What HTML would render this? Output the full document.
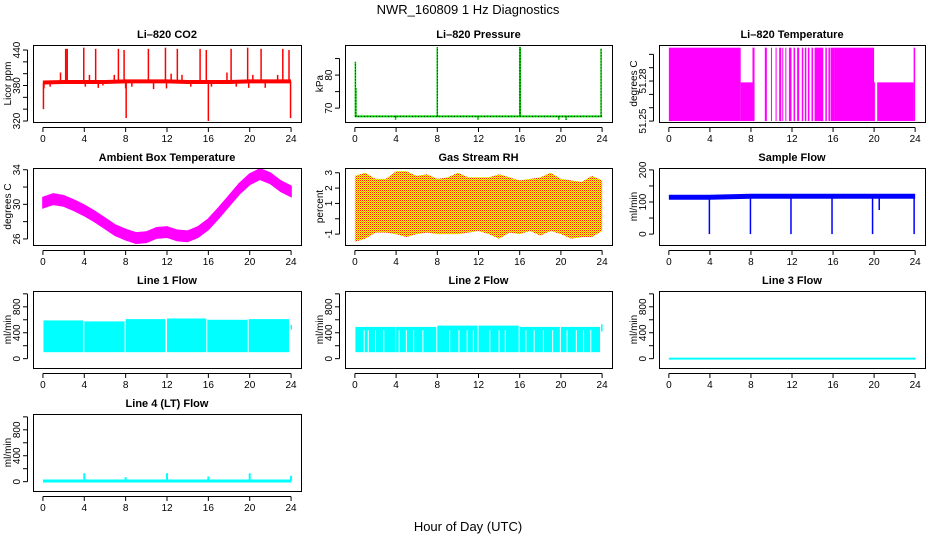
<!DOCTYPE html>
<html><head><meta charset="utf-8"><style>
body{margin:0;background:#fff}
svg{display:block;font-family:"Liberation Sans",sans-serif}
</style></head><body>
<svg id="c" width="936" height="540" xmlns="http://www.w3.org/2000/svg">
<defs>
<pattern id="rhpat" width="2" height="2" patternUnits="userSpaceOnUse"><rect width="2" height="2" fill="#ffff00"/><rect width="1" height="1" fill="#ff2000"/><rect x="1" y="1" width="1" height="1" fill="#ffa000"/></pattern>
</defs>
<text x="468" y="14" text-anchor="middle" font-size="13">NWR_160809  1 Hz Diagnostics</text>
<text x="468" y="531" text-anchor="middle" font-size="13">Hour of Day (UTC)</text>
</svg>
<script>
// ---- data ----
const xTicks=[0,4,8,12,16,20,24];
const co2Hours=[0,2,4,6,8,10,12,14,16,18,20,22,24];
const co2Base=[385,386,386,386,387,387,387,386,386,386,387,387,387];
const co2SpikeHours=[0.05,0.1,0.7,1.7,2.2,2.35,3.95,4.1,4.5,5.1,5.35,5.8,6.9,7.3,7.85,8.0,8.05,8.6,10.2,10.7,11.85,11.95,12.4,13.0,13.45,14.3,15.2,15.8,16.0,16.3,17.8,18.2,18.7,19.8,19.9,20.3,21.1,21.5,22.7,23.2,23.8,23.95];
const co2SpikeVals=[340,375,378,402,442,442,444,378,398,442,376,380,398,442,440,375,325,378,442,374,444,375,400,442,398,378,442,440,320,378,402,442,378,444,376,398,442,376,398,442,440,325];
const presBase=67.5;
const presSpikeHours=[0.05,0.1,3.95,8.0,11.95,16.0,16.05,19.8,20.5,23.9];
const presSpikeVals=[84,76,66.5,88.5,66.5,88.5,88.5,66.5,66.4,88];
const tempStart=[0,7.0,8.15,9.35,9.95,10.4,10.75,11.05,11.35,11.7,12.15,12.5,12.95,13.25,13.55,13.9,14.2,15.25,15.55,15.75,16.1,20.0,20.3,23.85];
const tempEnd=[7.0,8.15,8.35,9.55,10.05,10.5,10.95,11.15,11.45,11.95,12.3,12.7,13.1,13.4,13.7,14.05,15.05,15.4,15.7,16.1,20.0,20.05,23.85,24.0];
const tempTop=[51.305,51.279,51.305,51.305,51.305,51.305,51.305,51.305,51.305,51.305,51.305,51.305,51.305,51.305,51.305,51.305,51.305,51.305,51.305,51.305,51.305,51.279,51.279,51.305];
const ambHours=[0,1,2,3,4,5,6,7,8,9,10,11,12,13,14,15,16,17,18,19,20,21,22,23,24];
const ambVals=[30.2,30.6,30.4,29.9,29.3,28.6,27.8,27.0,26.5,26.1,26.2,26.7,26.8,26.4,26.3,26.8,27.7,29.0,30.4,31.8,32.9,33.5,33.0,32.1,31.5];
const rhHours=[0,1,2,3,4,5,6,7,8,9,10,11,12,13,14,15,16,17,18,19,20,21,22,23,24];
const rhHigh=[2.8,3.0,2.6,2.6,3.1,3.1,2.8,2.9,2.6,2.7,3.0,2.7,2.7,2.7,2.9,2.7,2.5,2.6,2.7,3.0,2.6,2.5,2.4,2.8,2.5];
const rhLow=[-1.5,-1.3,-0.9,-0.9,-1.0,-1.2,-1.0,-0.9,-1.0,-1.0,-1.0,-0.9,-0.8,-1.0,-1.3,-0.9,-1.0,-0.8,-1.1,-0.8,-1.0,-1.3,-1.2,-1.2,-0.8];
const sfHours=[0,4,8,12,16,20,24];
const sfBase=[115,115,118,118,118,118,118];
const sfDropHours=[3.95,7.95,11.9,15.9,19.85,20.5,23.9];
const sfDropVals=[0,0,0,0,0,75,0];
const l1Start=[0.05,4.0,8.0,12.0,15.9,19.9,23.95];
const l1End=[3.9,7.9,11.85,15.8,19.8,23.8,24.0];
const l1High=[590,575,610,620,600,610,520];
const l1Low=[100,100,100,100,100,100,450];
const l2Start=[0.05,4.0,8.0,12.0,16.0,20.0,23.9];
const l2End=[3.95,7.9,11.9,15.9,19.9,23.8,24.0];
const l2High=[490,490,510,510,490,490,530];
const l2Gaps=[0.9,1.3,2.0,2.8,4.3,5.0,5.7,6.6,9.2,10.1,10.9,11.5,13.1,14.0,14.6,16.6,17.4,18.3,19.2,20.6,21.5,22.2,22.9];
const l4Base=10;
const l4SpikeHours=[4,8,12,16,20,24];
const l4SpikeVals=[130,70,130,80,130,90];

// ---- layout ----
const NS="http://www.w3.org/2000/svg";
const svg=document.getElementById('c');
const colL=[33,345,659], colW=[268,267,266];
const rowT=[45,168,291,414], boxH=77;
function el(tag,attrs,parent){const e=document.createElementNS(NS,tag);for(const k in attrs)e.setAttribute(k,attrs[k]);(parent||svg).appendChild(e);return e;}
function panel(name,col,row,title,ylab,dom,ticks,labels){
  const g=el('g',{});
  
  
  const L=colL[col],W=colW[col],T=rowT[row],B=T+boxH;
  const sx=h=>L+(h+0.96)/25.92*W;
  const sy=v=>B-(v-dom[0])/(dom[1]-dom[0])*boxH;
  const t=el('text',{x:L+W/2,y:T-7,'text-anchor':'middle','font-size':11,'font-weight':'bold'},g);t.textContent=title;
  
  
  const yl=el('text',{transform:`translate(${L-22},${T+boxH/2}) rotate(-90)`,'text-anchor':'middle','font-size':10},g);yl.textContent=ylab;
  
  
  const data=el('g',{},g);
  
  
  const ax=el('g',{stroke:'#000','stroke-width':1,fill:'none'},g);
  
  
  el('rect',{x:L+0.5,y:T+0.5,width:W,height:boxH},ax);
  el('line',{x1:sx(0),x2:sx(24),y1:B+5.5,y2:B+5.5},ax);
  xTicks.forEach(h=>{el('line',{x1:sx(h),x2:sx(h),y1:B+5.5,y2:B+10},ax);
    const tx=el('text',{x:sx(h),y:B+20,'text-anchor':'middle','font-size':10,fill:'#000',stroke:'none'},g);tx.textContent=h;
    
    });
  el('line',{x1:L-5.5,x2:L-5.5,y1:sy(ticks[0]),y2:sy(ticks[ticks.length-1])},ax);
  ticks.forEach(v=>el('line',{x1:L-10,x2:L-5.5,y1:sy(v),y2:sy(v)},ax));
  labels.forEach(v=>{const ty=el('text',{transform:`translate(${L-13},${sy(v)}) rotate(-90)`,'text-anchor':'middle','font-size':10},g);ty.textContent=v;
    
    });
  return {sx,sy,g:data};
}
function vline(g,x,y1,y2,c,w){return el('line',{x1:x,x2:x,y1:y1,y2:y2,stroke:c,'stroke-width':w||1},g);}

// CO2
(function(){const p=panel('co2',0,0,'Li–820 CO2','Licor ppm',[318.3,448.5],[320,340,360,380,400,420,440],[320,380,440]);
 let pts=co2Hours.map((h,i)=>p.sx(h)+','+p.sy(co2Base[i])).join(' ');
 const band=el('polyline',{points:pts,fill:'none',stroke:'#ff0000','stroke-width':4},p.g);
 
 co2SpikeHours.forEach((h,i)=>{const b=co2Base[Math.min(co2Base.length-1,Math.round(h/2))];
  const s=vline(p.g,p.sx(h),p.sy(b),p.sy(co2SpikeVals[i]),'#ff0000',1.5);
  });})();
// Pressure
(function(){const p=panel('pressure',1,0,'Li–820 Pressure','kPa',[65.8,89.1],[70,75,80,85],[70,80]);
 const b=el('line',{x1:p.sx(0),x2:p.sx(24),y1:p.sy(presBase),y2:p.sy(presBase),stroke:'#00dd00','stroke-width':2},p.g);
 
 el('line',{x1:p.sx(0),x2:p.sx(24),y1:p.sy(presBase),y2:p.sy(presBase),stroke:'#000','stroke-width':1,'stroke-dasharray':'1,2'},p.g);
 presSpikeHours.forEach((h,i)=>{const s=vline(p.g,p.sx(h),p.sy(presBase),p.sy(presSpikeVals[i]),'#00dd00',1.5);
  
  el('line',{x1:p.sx(h),x2:p.sx(h),y1:p.sy(presBase),y2:p.sy(presSpikeVals[i]),stroke:'#000','stroke-dasharray':'1,2'},p.g);});})();
// Temperature
(function(){const p=panel('li820-temp',2,0,'Li–820 Temperature','degrees C',[51.2493,51.307],[51.25,51.26,51.27,51.28,51.29,51.30],[51.25,51.28]);
 tempStart.forEach((s,i)=>{const r=el('rect',{x:p.sx(s),y:p.sy(tempTop[i]),width:Math.max(1,p.sx(tempEnd[i])-p.sx(s)),height:p.sy(51.25)-p.sy(tempTop[i]),fill:'#ff00ff'},p.g);
  });})();
// Ambient
(function(){const p=panel('ambient',0,1,'Ambient Box Temperature','degrees C',[25.3,34.2],[26,28,30,32,34],[26,30,34]);
 const up=ambHours.map((h,i)=>p.sx(h)+','+p.sy(ambVals[i]+0.6));
 const dn=ambHours.map((h,i)=>p.sx(h)+','+p.sy(ambVals[i]-0.6)).reverse();
 const pg=el('polygon',{points:up.concat(dn).join(' '),fill:'#ff00ff',stroke:'#ff00ff','stroke-width':1.5},p.g);
 })();
// RH
(function(){const p=panel('rh',1,1,'Gas Stream RH','percent',[-1.71,3.31],[-1,0,1,2,3],[-1,1,2,3]);
 const up=rhHours.map((h,i)=>p.sx(h)+','+p.sy(rhHigh[i]));
 const dn=rhHours.map((h,i)=>p.sx(h)+','+p.sy(rhLow[i])).reverse();
 const pg=el('polygon',{points:up.concat(dn).join(' '),fill:'url(#rhpat)'},p.g);
 })();
// Sample flow
(function(){const p=panel('sample-flow',2,1,'Sample Flow','ml/min',[-34,206],[0,50,100,150,200],[0,100,200]);
 const pl=el('polyline',{points:sfHours.map((h,i)=>p.sx(h)+','+p.sy(sfBase[i])).join(' '),fill:'none',stroke:'#0000ff','stroke-width':5},p.g);
 
 sfDropHours.forEach((h,i)=>{const s=vline(p.g,p.sx(h),p.sy(112),p.sy(sfDropVals[i]),'#0000ff',1.5);
  });})();
const flowDom=[-144,1044],flowTicks=[0,200,400,600,800,1000],flowLabels=[0,400,800];
// Line 1
(function(){const p=panel('line1',0,2,'Line 1 Flow','ml/min',flowDom,flowTicks,flowLabels);
 l1Start.forEach((s,i)=>{const r=el('rect',{x:p.sx(s),y:p.sy(l1High[i]),width:Math.max(1.5,p.sx(l1End[i])-p.sx(s)),height:p.sy(l1Low[i])-p.sy(l1High[i]),fill:'#00ffff'},p.g);
  });})();
// Line 2
(function(){const p=panel('line2',1,2,'Line 2 Flow','ml/min',flowDom,flowTicks,flowLabels);
 l2Start.forEach((s,i)=>{const r=el('rect',{x:p.sx(s),y:p.sy(l2High[i]),width:Math.max(1.5,p.sx(l2End[i])-p.sx(s)),height:p.sy(i==l2Start.length-1?420:100)-p.sy(l2High[i]),fill:'#00ffff'},p.g);
  });
 l2Gaps.forEach(h=>{const s=vline(p.g,p.sx(h),p.sy(440),p.sy(100),'#ffffff',1);
  });})();
// Line 3
(function(){const p=panel('line3',2,2,'Line 3 Flow','ml/min',flowDom,flowTicks,flowLabels);
 const l=el('line',{x1:p.sx(0),x2:p.sx(24),y1:p.sy(0),y2:p.sy(0),stroke:'#00ffff','stroke-width':2},p.g);
 })();
// Line 4
(function(){const p=panel('line4',0,3,'Line 4 (LT) Flow','ml/min',flowDom,flowTicks,flowLabels);
 const l=el('line',{x1:p.sx(0),x2:p.sx(24),y1:p.sy(l4Base),y2:p.sy(l4Base),stroke:'#00ffff','stroke-width':3},p.g);
 
 l4SpikeHours.forEach((h,i)=>{const s=vline(p.g,p.sx(h),p.sy(l4Base),p.sy(l4SpikeVals[i]),'#00ffff',2);
  });})();
</script>
</body></html>
